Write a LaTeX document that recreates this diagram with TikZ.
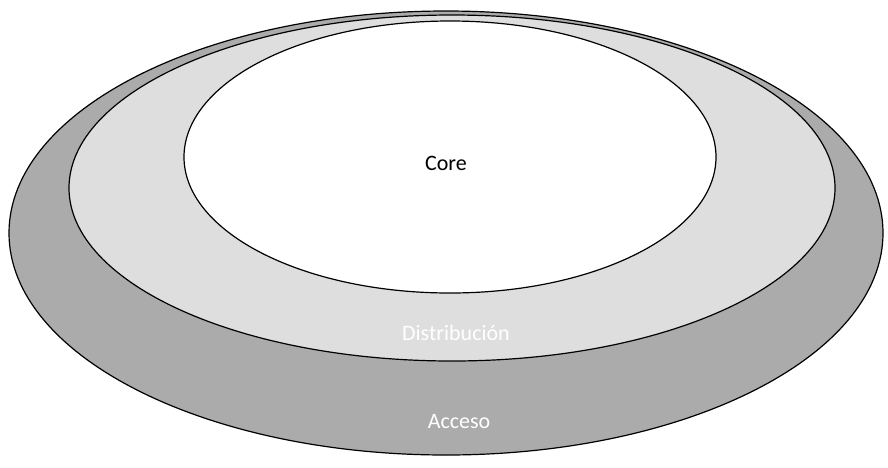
\documentclass[tikz,border=0pt]{standalone}
\usepackage{fontspec}
\setmainfont{Carlito}

\tikzset{
	ring/.style={draw=black, line width=1.2pt},
	lbl/.style={font=\fontsize{22}{26}\selectfont}
}

\begin{document}
\begin{tikzpicture}[x=1pt,y=-1pt]
			\useasboundingbox (0,0) rectangle (888,467);
			
			\filldraw [ring, fill=black!33] (446,233) ellipse (437 and 222);
			\filldraw [ring, fill=black!13] (452,188) ellipse (383 and 173);
			\filldraw [ring, fill=white] (450,157) ellipse (266 and 136);
			
			\node [lbl] (core) at (446,163) {Core};
			\node [lbl, text=white] (distr) at (456,333) {Distribución};
			\node [lbl, text=white] (acc) at (459,422) {Acceso};
			\end{tikzpicture}
\end{document}
